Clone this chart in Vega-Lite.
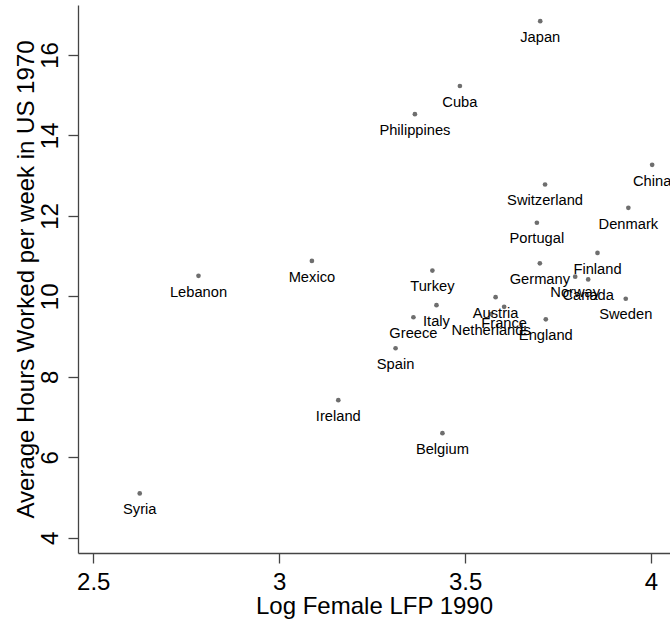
{
  "$schema": "https://vega.github.io/schema/vega-lite/v6.json",
  "width": 592,
  "height": 548,
  "autosize": {"type": "none"},
  "padding": {"left": 78, "top": 5, "right": 0, "bottom": 69},
  "background": "white",
  "config": {"view": {"stroke": null}, "font": "Liberation Sans"},
  "data": {
    "values": [
      {"country": "Japan", "lfp": 3.702, "hours": 16.84},
      {"country": "Cuba", "lfp": 3.486, "hours": 15.23},
      {"country": "Philippines", "lfp": 3.365, "hours": 14.53},
      {"country": "China", "lfp": 4.003, "hours": 13.27},
      {"country": "Switzerland", "lfp": 3.715, "hours": 12.78},
      {"country": "Denmark", "lfp": 3.939, "hours": 12.2},
      {"country": "Portugal", "lfp": 3.693, "hours": 11.83},
      {"country": "Finland", "lfp": 3.856, "hours": 11.08},
      {"country": "Mexico", "lfp": 3.088, "hours": 10.88},
      {"country": "Germany", "lfp": 3.701, "hours": 10.82},
      {"country": "Turkey", "lfp": 3.412, "hours": 10.64},
      {"country": "Lebanon", "lfp": 2.783, "hours": 10.51},
      {"country": "Norway", "lfp": 3.796, "hours": 10.49},
      {"country": "Canada", "lfp": 3.831, "hours": 10.42},
      {"country": "Austria", "lfp": 3.582, "hours": 9.98},
      {"country": "Sweden", "lfp": 3.932, "hours": 9.94},
      {"country": "Italy", "lfp": 3.423, "hours": 9.78},
      {"country": "France", "lfp": 3.605, "hours": 9.74},
      {"country": "Netherlands", "lfp": 3.57, "hours": 9.56},
      {"country": "Greece", "lfp": 3.361, "hours": 9.48},
      {"country": "England", "lfp": 3.717, "hours": 9.43},
      {"country": "Spain", "lfp": 3.313, "hours": 8.71},
      {"country": "Ireland", "lfp": 3.159, "hours": 7.42},
      {"country": "Belgium", "lfp": 3.439, "hours": 6.6},
      {"country": "Syria", "lfp": 2.625, "hours": 5.1}
    ]
  },
  "encoding": {
    "x": {
      "field": "lfp",
      "type": "quantitative",
      "scale": {"domain": [2.459, 4.051], "nice": false, "zero": false},
      "axis": {
        "title": "Log Female LFP 1990",
        "values": [2.5, 3, 3.5, 4],
        "format": "~g",
        "grid": false,
        "domainColor": "#444444",
        "domainWidth": 1.3,
        "tickColor": "#444444",
        "tickWidth": 1.3,
        "tickSize": 10,
        "labelFontSize": 24,
        "labelColor": "black",
        "labelBaseline": "alphabetic",
        "labelPadding": 26.5,
        "titleFontSize": 24,
        "titleFontWeight": "normal",
        "titleColor": "black",
        "titleBaseline": "alphabetic",
        "titlePadding": 19
      }
    },
    "y": {
      "field": "hours",
      "type": "quantitative",
      "scale": {"domain": [3.62, 17.243], "nice": false, "zero": false},
      "axis": {
        "title": "Average Hours Worked per week in US 1970",
        "values": [4, 6, 8, 10, 12, 14, 16],
        "grid": false,
        "domainColor": "#444444",
        "domainWidth": 1.3,
        "tickColor": "#444444",
        "tickWidth": 1.3,
        "tickSize": 10,
        "labelFontSize": 24,
        "labelColor": "black",
        "labelAngle": 270,
        "labelAlign": "center",
        "labelBaseline": "alphabetic",
        "labelPadding": 10.4,
        "titleFontSize": 24,
        "titleFontWeight": "normal",
        "titleColor": "black",
        "titleBaseline": "alphabetic",
        "titlePadding": 5
      }
    }
  },
  "layer": [
    {
      "mark": {"type": "point", "filled": true, "size": 22, "color": "#6e6e6e", "opacity": 1}
    },
    {
      "mark": {"type": "text", "fontSize": 14.7, "color": "black", "baseline": "alphabetic", "align": "center", "dy": 20.7},
      "encoding": {"text": {"field": "country"}}
    }
  ]
}
